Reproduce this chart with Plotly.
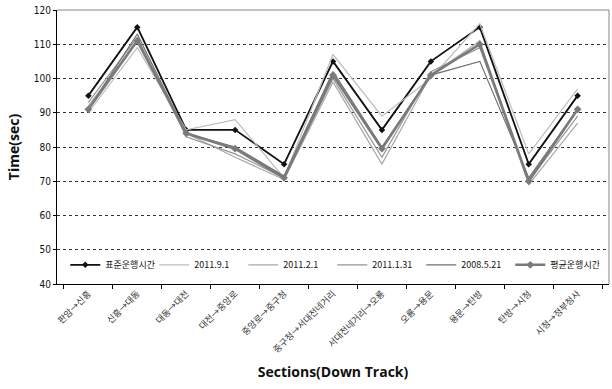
import plotly.graph_objects as go

categories = ["판암→신흥", "신흥→대동", "대동→대전", "대전→중앙로", "중앙로→중구청",
              "중구청→서대전네거리", "서대전네거리→오룡", "오룡→용문", "용문→탄방",
              "탄방→시청", "시청→정부청사"]
standard = [95, 115, 85, 85, 75, 105, 85, 105, 115, 75, 95]
d2011_9_1 = [90, 109, 85, 88, 71, 107, 89, 100, 116, 78, 97]
d2011_2_1 = [92, 111, 84, 77, 70.5, 99, 75, 101, 111, 69, 87]
d2011_1_31 = [93, 112, 83, 78, 71, 100, 77, 102, 109, 70, 89]
d2008_5_21 = [91, 113, 84, 80, 71.5, 102, 80, 101, 105, 71, 91]
average = [91, 111, 84, 79.5, 71, 101, 79.5, 101, 110, 70, 91]
yticks = [40, 50, 60, 70, 80, 90, 100, 110, 120]

font_kr = "Noto Sans CJK KR"

fig = go.Figure()
series = [
    ("2011.9.1", d2011_9_1, "#bdbdbd", 1.2),
    ("2011.2.1", d2011_2_1, "#a8a8a8", 1.2),
    ("2011.1.31", d2011_1_31, "#959595", 1.2),
    ("2008.5.21", d2008_5_21, "#707070", 1.2),
]
fig.add_trace(go.Scatter(x=categories, y=standard, name="표준운행시간", mode="lines+markers",
                         line=dict(color="#111111", width=1.8),
                         marker=dict(symbol="diamond", size=5, color="#111111")))
for name, vals, col, w in series:
    fig.add_trace(go.Scatter(x=categories, y=vals, name=name, mode="lines",
                             line=dict(color=col, width=w)))
fig.add_trace(go.Scatter(x=categories, y=average, name="평균운행시간", mode="lines+markers",
                         line=dict(color="#7a7a7a", width=2.6),
                         marker=dict(symbol="diamond", size=6, color="#7a7a7a")))

fig.update_layout(
    width=612, height=389,
    margin=dict(l=57, r=3, t=10, b=105),
    paper_bgcolor="white", plot_bgcolor="white",
    font=dict(family=font_kr, color="#111111"),
    showlegend=True,
    legend=dict(orientation="h", x=0.015, y=0.07, xanchor="left", yanchor="middle",
                bgcolor="rgba(0,0,0,0)", font=dict(size=9, family=font_kr),
                itemwidth=30, entrywidth=44, entrywidthmode="pixels", tracegroupgap=0),
    xaxis=dict(tickangle=-45, tickfont=dict(size=9, family=font_kr, color="#333333"),
               showline=True, linecolor="#000000", linewidth=1, mirror=False,
               ticks="outside", tickson="boundaries", ticklen=4, tickcolor="#000000",
               showgrid=False,
               title=dict(text="<b>Sections(Down Track)</b>", font=dict(size=14, family="Open Sans", color="#111111"),
                          standoff=12)),
    yaxis=dict(range=[40, 120], tickvals=yticks, tickfont=dict(size=10, family="DejaVu Sans Condensed"),
               showline=True, linecolor="#000000", linewidth=1,
               ticks="outside", ticklen=3, tickcolor="#000000",
               showgrid=True, gridcolor="#333333", griddash="dot", gridwidth=1,
               zeroline=False,
               title=dict(text="<b>Time(sec)</b>", font=dict(size=14, family="Open Sans", color="#111111"),
                          standoff=10)),
)
# right and top border of plot area
fig.add_shape(type="line", xref="paper", yref="paper", x0=1, x1=1, y0=0, y1=1,
              line=dict(color="#888888", width=1))
fig.add_shape(type="line", xref="paper", yref="paper", x0=0, x1=1, y0=1, y1=1,
              line=dict(color="#888888", width=1))

fig.write_html("out.html")
